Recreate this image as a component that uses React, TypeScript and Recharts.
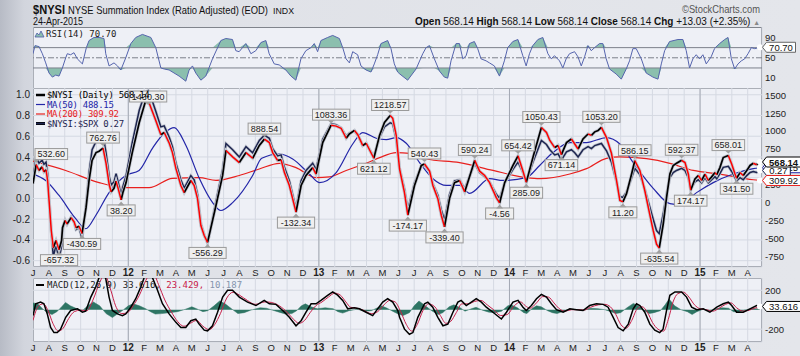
import React from "react";
import { ComposedChart, Line, Area, XAxis, YAxis, CartesianGrid, ReferenceLine } from "recharts";

// t = months since 1-Jul-2011
const MONTHS = "JFMAMJJASOND";
const monthTicks = Array.from({ length: 46 }, (_, i) => i);
const yearTicks = [6, 18, 30, 42];

const nysi: [number, number][] = [
  [0.0, 266], [0.2, 532.6], [0.38, 450], [0.57, 500], [0.69, 430], [0.82, 460], [0.92, 310], [1.15, -390], [1.28, -630],
  [1.45, -530], [1.64, -657.32], [1.8, -530], [1.86, -350], [2.02, -250], [2.14, -300], [2.4, -210], [2.59, -270], [2.71, -350],
  [2.9, -330], [3.09, -430.59], [3.34, -70], [3.53, 310], [3.72, 590], [3.97, 700], [4.16, 720], [4.41, 762.76], [4.6, 550],
  [4.8, 250], [4.92, 150], [5.1, 200], [5.23, 300], [5.36, 200], [5.55, 38.2], [5.67, 150], [5.86, 280], [6.25, 700],
  [6.69, 1120], [7.06, 1400], [7.25, 1430.3], [7.42, 1330], [7.73, 1150], [8.05, 950], [8.26, 980], [8.58, 830], [8.78, 700],
  [9.0, 475], [9.31, 240], [9.52, 140], [9.94, 310], [10.15, 240], [10.36, 56], [10.57, -320], [10.78, -460], [10.99, -556.29],
  [11.52, -40], [11.94, 380], [12.15, 730], [12.57, 640], [12.99, 560], [13.41, 700], [13.83, 620], [14.25, 800], [14.57, 888.54],
  [14.88, 840], [15.09, 700], [15.4, 590], [15.62, 600], [15.83, 420], [16.14, 240], [16.56, -132.34], [16.88, 240], [17.19, 380],
  [17.61, 490], [17.82, 400], [18.24, 840], [18.77, 1083.36], [19.09, 1070], [19.4, 1040], [19.72, 900], [19.92, 960], [20.24, 1010],
  [20.45, 950], [20.76, 800], [20.98, 830], [21.46, 621.12], [21.82, 940], [22.13, 1120], [22.49, 1218.57], [22.65, 1180], [22.87, 940],
  [23.08, 470], [23.39, 140], [23.6, -174.17], [24.02, 240], [24.45, 520], [24.65, 540.43], [24.97, 440], [25.18, 240], [25.49, 56],
  [25.71, -180], [25.91, -339.4], [26.23, 60], [26.54, 280], [26.86, 310], [27.18, 150], [27.38, 290], [27.81, 590.24], [28.12, 440],
  [28.44, 380], [28.75, 280], [29.17, 70], [29.38, -4.56], [29.7, 280], [30.22, 520], [30.54, 654.42], [30.85, 440], [31.06, 285.09],
  [31.5, 650], [32.01, 1050.43], [32.33, 980], [32.54, 870], [32.85, 770], [33.06, 800], [33.27, 671.14], [33.59, 840], [33.9, 890],
  [34.11, 820], [34.32, 750], [34.63, 890], [34.95, 960], [35.16, 940], [35.37, 990], [35.58, 1010], [35.79, 1053.2], [36.11, 910],
  [36.42, 690], [36.74, 310], [36.95, 30], [37.14, 11.2], [37.37, 125], [37.69, 400], [37.89, 586.15], [38.21, 450], [38.52, 170],
  [38.83, -160], [39.05, -390], [39.26, -580], [39.43, -635.54], [39.68, -300], [39.89, 70], [40.1, 400], [40.31, 520], [40.52, 550],
  [40.84, 592.37], [41.05, 560], [41.26, 400], [41.41, 174.17], [41.68, 330], [41.89, 380], [42.1, 310], [42.31, 400], [42.52, 310],
  [42.73, 360], [42.94, 420], [43.05, 390], [43.25, 490], [43.46, 630], [43.78, 658.01], [43.99, 540], [44.2, 400], [44.3, 341.5],
  [44.52, 420], [44.72, 380], [44.94, 450], [45.15, 520], [45.35, 550], [45.56, 530], [45.77, 568.14],
];

const nysiSpx: [number, number][] = [
  [0.0, 0.2], [0.2, 0.4], [0.38, 0.34], [0.57, 0.37], [0.69, 0.33], [0.82, 0.35], [0.92, 0.24], [1.15, -0.33], [1.28, -0.56],
  [1.45, -0.45], [1.64, -0.585], [1.8, -0.46], [1.86, -0.3], [2.02, -0.21], [2.14, -0.25], [2.4, -0.18], [2.59, -0.23], [2.71, -0.3],
  [2.9, -0.28], [3.09, -0.39], [3.34, -0.06], [3.53, 0.25], [3.72, 0.47], [3.97, 0.55], [4.16, 0.57], [4.41, 0.61], [4.6, 0.44],
  [4.8, 0.21], [4.92, 0.13], [5.1, 0.16], [5.23, 0.24], [5.36, 0.16], [5.55, 0.03], [5.67, 0.12], [5.86, 0.22], [6.25, 0.54],
  [6.69, 0.85], [7.06, 1.02], [7.25, 1.04], [7.42, 0.98], [7.73, 0.84], [8.05, 0.69], [8.26, 0.7], [8.58, 0.59], [8.78, 0.5],
  [9.0, 0.34], [9.31, 0.18], [9.52, 0.1], [9.94, 0.22], [10.15, 0.18], [10.36, 0.04], [10.57, -0.24], [10.78, -0.35], [10.99, -0.43],
  [11.52, -0.03], [11.94, 0.28], [12.15, 0.53], [12.57, 0.47], [12.99, 0.4], [13.41, 0.5], [13.83, 0.44], [14.25, 0.56], [14.57, 0.61],
  [14.88, 0.58], [15.09, 0.48], [15.4, 0.41], [15.62, 0.42], [15.83, 0.3], [16.14, 0.17], [16.56, -0.1], [16.88, 0.17], [17.19, 0.27],
  [17.61, 0.34], [17.82, 0.28], [18.24, 0.57], [18.77, 0.72], [19.09, 0.71], [19.4, 0.68], [19.72, 0.6], [19.92, 0.63], [20.24, 0.65],
  [20.45, 0.61], [20.76, 0.51], [20.98, 0.53], [21.46, 0.4], [21.82, 0.59], [22.13, 0.69], [22.49, 0.73], [22.65, 0.72], [22.87, 0.57],
  [23.08, 0.29], [23.39, 0.09], [23.6, -0.11], [24.02, 0.15], [24.45, 0.31], [24.65, 0.32], [24.97, 0.26], [25.18, 0.14], [25.49, 0.03],
  [25.71, -0.11], [25.91, -0.21], [26.23, 0.04], [26.54, 0.17], [26.86, 0.18], [27.18, 0.09], [27.38, 0.17], [27.81, 0.34], [28.12, 0.25],
  [28.44, 0.21], [28.75, 0.16], [29.17, 0.04], [29.38, 0.0], [29.7, 0.15], [30.22, 0.28], [30.54, 0.35], [30.85, 0.25], [31.06, 0.16],
  [31.5, 0.36], [32.01, 0.56], [32.33, 0.52], [32.54, 0.47], [32.85, 0.42], [33.06, 0.43], [33.27, 0.37], [33.59, 0.45], [33.9, 0.47],
  [34.11, 0.44], [34.32, 0.4], [34.63, 0.47], [34.95, 0.5], [35.16, 0.48], [35.37, 0.51], [35.58, 0.52], [35.79, 0.53], [36.11, 0.46],
  [36.42, 0.35], [36.74, 0.16], [36.95, 0.02], [37.14, 0.01], [37.37, 0.06], [37.69, 0.2], [37.89, 0.29], [38.21, 0.23], [38.52, 0.09],
  [38.83, -0.08], [39.05, -0.2], [39.26, -0.31], [39.43, -0.34], [39.68, -0.15], [39.89, 0.04], [40.1, 0.2], [40.31, 0.25], [40.52, 0.27],
  [40.84, 0.29], [41.05, 0.27], [41.26, 0.2], [41.41, 0.09], [41.68, 0.16], [41.89, 0.18], [42.1, 0.15], [42.31, 0.2], [42.52, 0.15],
  [42.73, 0.18], [42.94, 0.21], [43.05, 0.19], [43.25, 0.24], [43.46, 0.3], [43.78, 0.31], [43.99, 0.26], [44.2, 0.2], [44.3, 0.17],
  [44.52, 0.2], [44.72, 0.18], [44.94, 0.22], [45.15, 0.25], [45.35, 0.26], [45.56, 0.25], [45.77, 0.27],
];

const ma50: [number, number][] = [
  [0, 400], [0.8, 310], [1.64, 100], [2.69, -225], [3.32, -365], [3.95, -180], [4.79, 140], [5.84, 380], [6.68, 450], [7.52, 760],
  [8.3, 980], [8.89, 1050], [9.63, 800], [10.47, 340], [11.31, 0], [11.83, -110], [12.57, 0], [13.83, 380], [14.4, 620], [15.51, 680],
  [16.35, 610], [17.4, 400], [18.03, 280], [19.09, 420], [20.13, 820], [20.76, 980], [21.61, 900], [22.24, 880], [22.87, 910],
  [23.5, 830], [24.34, 560], [25.18, 335], [26.02, 240], [26.86, 240], [27.49, 130], [28.75, 335], [29.59, 310], [31.06, 350],
  [31.9, 520], [32.74, 700], [33.8, 840], [34.85, 840], [36.11, 910], [36.95, 820], [37.79, 560], [39.05, 200], [40.1, -15],
  [40.73, -30], [41.78, 140], [42.83, 280], [44.09, 400], [45.35, 475], [45.77, 488.15],
];

const ma200: [number, number][] = [
  [0, 580], [2.06, 450], [4.16, 280], [5.84, 210], [7.31, 210], [8.78, 340], [10.47, 350], [11.52, 310], [12.99, 380], [14.25, 470],
  [15.51, 550], [16.56, 490], [17.82, 350], [18.66, 360], [19.72, 450], [20.98, 550], [21.82, 630], [22.87, 700], [23.71, 690],
  [24.76, 610], [26.86, 560], [28.96, 450], [31.06, 350], [31.9, 335], [33.8, 400], [34.85, 475], [36.11, 620], [36.95, 640],
  [38.63, 615], [40.1, 550], [41.57, 450], [43.25, 400], [45.35, 320], [45.77, 309.92],
];

// labelled turning points of $NYSI: [t, 'h' | 'l']
const peakTimes: [number, string][] = [
  [0.2, "h"], [1.64, "l"], [3.09, "l"], [4.41, "h"], [5.55, "l"], [7.25, "h"], [10.99, "l"], [14.57, "h"], [16.56, "l"],
  [18.77, "h"], [21.46, "l"], [22.49, "h"], [23.6, "l"], [24.65, "h"], [25.91, "l"], [27.81, "h"], [29.38, "l"], [30.54, "h"],
  [31.06, "l"], [32.01, "h"], [33.27, "l"], [35.79, "h"], [37.14, "l"], [37.89, "h"], [39.43, "l"], [40.84, "h"], [41.41, "l"],
  [43.78, "h"], [44.3, "l"],
];

const rsi: [number, number][] = [
  [0, 58], [0.13, 74], [0.38, 72], [0.59, 58], [0.8, 40], [1.01, 20], [1.22, 12], [1.43, 16], [1.64, 14], [1.85, 30], [2.06, 50],
  [2.16, 58], [2.37, 56], [2.58, 60], [2.79, 48], [3.11, 38], [3.36, 70], [3.53, 84], [3.84, 90], [4.16, 90], [4.47, 88], [4.58, 58],
  [4.79, 34], [5.1, 40], [5.32, 34], [5.53, 26], [5.84, 50], [6.16, 78], [6.47, 90], [6.89, 96], [7.42, 90], [7.73, 70], [8.05, 30],
  [8.26, 28], [8.57, 26], [9.2, 14], [9.62, 4], [9.83, 26], [10.04, 34], [10.25, 20], [10.57, 6], [10.88, 14], [11.3, 48], [11.83, 84],
  [12.14, 88], [12.56, 86], [12.77, 64], [12.98, 62], [13.4, 78], [13.72, 58], [14.03, 64], [14.35, 80], [14.66, 84], [14.87, 58],
  [15.19, 38], [15.5, 36], [15.92, 26], [16.24, 14], [16.55, 6], [16.87, 48], [17.18, 64], [17.5, 70], [17.71, 78], [17.92, 62],
  [18.13, 84], [18.55, 90], [18.87, 94], [19.29, 88], [19.5, 70], [19.71, 48], [19.92, 40], [20.13, 62], [20.44, 56], [20.65, 34],
  [20.97, 26], [21.28, 22], [21.49, 38], [21.7, 56], [21.91, 78], [22.33, 84], [22.54, 68], [22.75, 38], [22.96, 22], [23.1, 18],
  [23.59, 6], [24.12, 28], [24.54, 58], [24.75, 70], [24.96, 74], [25.27, 48], [25.59, 24], [25.9, 12], [26.11, 10], [26.32, 44],
  [26.64, 78], [26.85, 78], [27.06, 48], [27.27, 54], [27.48, 78], [27.79, 82], [28.0, 68], [28.21, 48], [28.53, 44], [28.74, 40],
  [29.05, 34], [29.37, 14], [29.68, 44], [29.89, 70], [30.21, 82], [30.53, 86], [30.84, 54], [31.05, 34], [31.26, 58], [31.47, 74],
  [31.79, 86], [32.1, 90], [32.42, 58], [32.63, 48], [32.84, 54], [33.15, 44], [33.36, 30], [33.57, 48], [33.78, 58], [34.1, 62],
  [34.31, 52], [34.52, 34], [34.73, 52], [34.94, 74], [35.15, 64], [35.36, 70], [35.67, 78], [35.88, 78], [36.09, 48], [36.3, 28],
  [36.72, 18], [37.04, 8], [37.35, 28], [37.56, 44], [37.77, 68], [37.98, 68], [38.3, 48], [38.61, 20], [39.03, 12], [39.35, 8],
  [39.56, 38], [39.77, 64], [40.08, 82], [40.61, 86], [40.92, 86], [41.13, 64], [41.34, 30], [41.55, 48], [41.76, 56], [41.97, 48],
  [42.18, 56], [42.39, 38], [42.7, 52], [42.91, 68], [43.23, 78], [43.55, 86], [43.76, 90], [43.97, 48], [44.18, 28], [44.39, 38],
  [44.6, 44], [44.81, 48], [45.02, 58], [45.23, 70], [45.44, 68], [45.77, 70.7],
];

const macd: [number, number][] = [
  [0, -60], [0.17, 61], [0.48, 78], [0.69, 61], [0.9, -43], [1.11, -183], [1.32, -235], [1.53, -235], [1.74, -200], [2.06, -78],
  [2.37, -8], [2.8, 9], [3.11, -26], [3.32, -15], [3.64, 130], [3.95, 235], [4.16, 330], [4.35, 400], [4.58, 320], [4.79, 130],
  [5.0, -8], [5.32, -43], [5.63, -61], [5.84, -43], [6.16, 26], [6.47, 113], [6.79, 235], [7.0, 330], [7.25, 420], [7.52, 330],
  [7.84, 200], [8.15, 61], [8.57, -43], [9.0, -130], [9.31, -183], [9.62, -183], [9.94, -113], [10.25, -96], [10.46, -148],
  [10.78, -210], [10.99, -217], [11.3, -165], [11.62, -26], [11.94, 130], [12.25, 200], [12.56, 200], [12.99, 130], [13.51, 78],
  [14.04, 43], [14.56, 96], [14.88, 61], [15.3, 55], [15.72, -8], [16.14, -78], [16.56, -165], [16.88, -113], [17.19, -26],
  [17.51, 61], [17.82, 61], [18.13, 96], [18.55, 148], [18.87, 183], [19.18, 150], [19.5, 96], [19.82, 9], [20.23, 19], [20.55, 9],
  [20.97, -26], [21.39, -61], [21.7, 9], [22.02, 78], [22.33, 113], [22.65, 78], [22.97, -8], [23.08, -78], [23.39, -200],
  [23.7, -252], [23.92, -235], [24.23, -78], [24.65, 61], [24.86, 78], [25.17, 26], [25.49, -78], [25.81, -165], [26.12, -148],
  [26.44, -26], [26.75, 78], [26.96, 96], [27.28, 43], [27.6, 78], [27.91, 113], [28.23, 78], [28.54, 26], [28.96, -26],
  [29.49, -96], [29.81, -26], [30.22, 78], [30.54, 96], [30.85, 26], [31.06, -8], [31.38, 43], [31.7, 113], [32.01, 157],
  [32.33, 130], [32.64, 61], [32.96, 0], [33.38, -26], [33.8, 9], [34.22, 0], [34.63, -8], [35.05, 43], [35.48, 61], [35.9, 55],
  [36.21, 26], [36.53, -78], [36.84, -183], [37.16, -217], [37.48, -148], [37.79, 9], [38.0, 61], [38.21, 43], [38.52, -26],
  [38.84, -148], [39.15, -210], [39.46, -235], [39.67, -200], [39.89, -8], [40.1, 148], [40.42, 183], [40.84, 183], [41.15, 130],
  [41.47, 26], [41.79, 0], [42.2, 9], [42.62, -26], [43.05, 26], [43.46, 61], [43.78, 78], [43.99, 43], [44.3, -26], [44.72, -26],
  [45.14, 9], [45.56, 43], [45.77, 33.616],
];

const signal: [number, number][] = [
  [0, -110], [0.35, 40], [0.65, 60], [0.95, -10], [1.25, -140], [1.6, -220], [1.9, -190], [2.25, -90], [2.6, -20], [3.0, -5],
  [3.4, -10], [3.8, 110], [4.2, 280], [4.5, 360], [4.9, 200], [5.2, 40], [5.6, -40], [5.95, -30], [6.3, 40], [6.7, 150], [7.1, 300],
  [7.5, 400], [7.9, 260], [8.3, 100], [8.7, -20], [9.1, -120], [9.5, -170], [9.9, -140], [10.3, -110], [10.7, -170], [11.1, -205],
  [11.45, -150], [11.8, -40], [12.2, 120], [12.6, 180], [13.0, 150], [13.5, 95], [14.0, 55], [14.6, 80], [15.0, 75], [15.4, 50],
  [15.9, -10], [16.3, -80], [16.75, -140], [17.1, -110], [17.45, -30], [17.8, 40], [18.2, 80], [18.6, 130], [19.0, 170],
  [19.35, 150], [19.7, 80], [20.0, 25], [20.4, 15], [20.8, -5], [21.3, -40], [21.7, -20], [22.1, 50], [22.45, 95], [22.8, 80],
  [23.15, -20], [23.5, -150], [23.85, -220], [24.2, -150], [24.55, -10], [24.9, 60], [25.3, 30], [25.65, -60], [26.0, -140],
  [26.3, -120], [26.65, -30], [27.0, 60], [27.4, 60], [27.8, 85], [28.2, 95], [28.6, 50], [29.0, 0], [29.45, -60], [29.85, -50],
  [30.3, 40], [30.7, 80], [31.0, 40], [31.3, 15], [31.7, 70], [32.1, 135], [32.45, 130], [32.8, 70], [33.1, 15], [33.5, -15],
  [33.9, 0], [34.3, 0], [34.7, -3], [35.1, 25], [35.6, 50], [36.0, 55], [36.35, 30], [36.7, -50], [37.0, -150], [37.35, -190],
  [37.7, -110], [38.05, 10], [38.35, 30], [38.7, -30], [39.0, -130], [39.35, -200], [39.7, -220], [40.0, -100], [40.3, 80],
  [40.6, 165], [40.95, 180], [41.3, 130], [41.65, 50], [42.0, 10], [42.4, 0], [42.8, -15], [43.2, 15], [43.6, 55], [43.95, 70],
  [44.3, 20], [44.7, -15], [45.1, -5], [45.5, 20], [45.77, 23.429],
];

const hist: [number, number][] = [
  [0, 70], [0.3, 60], [0.6, 10], [0.9, -30], [1.2, -50], [1.5, -20], [1.75, 20], [2.05, 75], [2.35, 40], [2.7, 15], [3.1, -10],
  [3.45, 40], [3.8, 80], [4.2, 40], [4.6, -40], [5.0, -80], [5.35, -40], [5.7, 0], [6.0, 40], [6.3, 60], [6.7, 40], [7.1, 10],
  [7.4, -20], [7.7, -45], [8.1, -40], [8.6, -30], [9.1, -20], [9.6, 5], [10.0, 30], [10.3, 10], [10.7, -20], [11.0, -10], [11.4, 40],
  [11.75, 90], [12.1, 60], [12.5, 10], [12.9, -40], [13.3, -30], [13.7, -5], [14.3, 20], [14.7, 15], [15.2, -10], [15.6, -30],
  [15.9, -45], [16.3, -40], [16.6, -10], [16.9, 40], [17.15, 60], [17.5, 30], [17.9, 10], [18.4, 20], [18.9, 10], [19.2, -20],
  [19.5, -35], [19.9, -10], [20.4, 5], [20.9, -15], [21.3, -10], [21.7, 20], [21.95, 40], [22.3, 15], [22.7, -20], [23.0, -45],
  [23.3, -60], [23.7, -30], [24.0, 40], [24.3, 90], [24.7, 40], [25.1, -10], [25.5, -50], [25.8, -30], [26.2, 30], [26.5, 50],
  [26.9, 20], [27.2, -15], [27.6, 10], [27.9, 25], [28.3, -5], [28.7, -25], [29.1, -30], [29.5, -15], [29.9, 40], [30.1, 50],
  [30.5, 20], [30.9, -30], [31.1, -40], [31.4, 10], [31.7, 40], [32.0, 30], [32.4, -10], [32.7, -30], [33.0, -40], [33.4, -15],
  [33.8, 5], [34.3, 0], [34.7, -5], [35.1, 15], [35.6, 10], [36.0, 0], [36.4, -20], [36.7, -40], [37.0, -30], [37.4, 20], [37.8, 65],
  [38.1, 40], [38.5, -10], [38.8, -40], [39.1, -30], [39.5, -10], [39.8, 50], [40.05, 110], [40.4, 40], [40.8, 0], [41.2, -20],
  [41.5, -50], [41.8, -20], [42.2, 5], [42.6, -10], [43.0, 10], [43.4, 20], [43.8, 15], [44.1, -20], [44.4, -25], [44.8, -5],
  [45.2, 10], [45.77, 10.187],
];

const FONT = "'Liberation Sans', Arial, sans-serif";
const MONO = "'DejaVu Sans Mono', monospace";

const rows = (p: [number, number][]) => p.map(([t, v]) => ({ t, v }));

// split $NYSI into rising (black) and falling (red) runs
function upDown(p: [number, number][]) {
  const out: any[] = p.map(([t, v]) => ({ t, v }));
  let dir = 0, up = 0, dn = 0;
  for (let i = 0; i < p.length - 1; i++) {
    const d = p[i + 1][1] >= p[i][1] ? 1 : -1;
    if (d !== dir) { dir = d; if (d > 0) up++; else dn++; }
    const k = d > 0 ? (up % 2 ? "upA" : "upB") : (dn % 2 ? "dnA" : "dnB");
    out[i][k] = p[i][1];
    out[i + 1][k] = p[i + 1][1];
  }
  return out;
}

const nysiRows = upDown(nysi);
const ratioRows = rows(nysiSpx);
const peakRows = peakTimes.map(([t, s]) => ({ t, v: (nysi.find((d) => d[0] === t) || [t, 0])[1], s }));
const last = (a: any[]) => [a[a.length - 1]];

const MonthTick = ({ x, y, payload }: any) => {
  const m = (payload.value + 6) % 12;
  const yr = Math.floor((payload.value + 6) / 12) + 11;
  const isYear = m === 0;
  return (
    <text x={x} y={y + 9} textAnchor="middle" fontSize={isYear ? 10 : 9.5} fontWeight={isYear ? "bold" : "normal"} fill="#222" fontFamily={FONT}>
      {isYear ? String(yr) : MONTHS[m]}
    </text>
  );
};

const tagLabel = (color: string, txt: string, bold = false) => (p: any) => {
  if (p.index !== 0 || p.x == null) return null;
  const x = 762.5, y = p.y;
  const w = txt.length * 5.2 + 7;
  return (
    <g>
      <path d={`M${x},${y} L${x + 4},${y - 5} L${x + w},${y - 5} L${x + w},${y + 5} L${x + 4},${y + 5} Z`} fill="#fff" stroke={color} strokeWidth={1} />
      <text x={x + 4 + (w - 4) / 2} y={y + 3.5} textAnchor="middle" fontSize={9.5} fontWeight={bold ? "bold" : "normal"} fill="#111" fontFamily={FONT}>
        {txt}
      </text>
    </g>
  );
};

const PeakLabel = (p: any) => {
  const pk = peakRows[p.index];
  if (!pk || p.x == null) return null;
  const txt = pk.v.toFixed(2);
  const w = txt.length * 4.6 + 5;
  const lo = pk.s === "l";
  const bx = Math.max(p.x - w / 2, 35);
  const by = lo ? p.y + 5 : Math.max(p.y - 16, 3);
  const tri = lo
    ? `M${p.x - 3.5},${p.y + 5.5} L${p.x + 3.5},${p.y + 5.5} L${p.x},${p.y + 1.5} Z`
    : `M${p.x - 3.5},${by + 11} L${p.x + 3.5},${by + 11} L${p.x},${by + 14} Z`;
  return (
    <g>
      <rect x={bx} y={by} width={w} height={11} fill="#efefef" stroke="#9a9a9a" strokeWidth={1} />
      <path d={tri} fill="#a0a0a0" />
      <text x={bx + w / 2} y={by + 8.8} textAnchor="middle" fontSize={9} fill="#222" fontFamily={FONT}>{txt}</text>
    </g>
  );
};

const panel = (top: number, height: number): React.CSSProperties => ({
  position: "absolute", left: 33, top, width: 729, height, background: "#eef0f6",
  border: "1px solid #80848c", boxSizing: "border-box",
});

const xDomain: [number, number] = [0, 45.9];
const na = { isAnimationActive: false, dot: false, activeDot: false } as any;

export default function App() {
  return (
    <div style={{ position: "absolute", left: 0, top: 0, width: 800, height: 356, overflow: "hidden",
      background: "linear-gradient(90deg, #b7bbc5 0px, #d2d5dd 24px, #dfe1e7 70px, #e4e6eb 100%)", fontFamily: FONT }}>
      <div style={panel(27, 62)} />
      <div style={panel(88, 179)} />
      <div style={panel(278, 64)} />

      {/* RSI */}
      <div style={{ position: "absolute", left: 0, top: 27 }}>
        <ComposedChart width={800} height={62} margin={{ top: 0, right: 0, bottom: 0, left: 33 }}>
          <CartesianGrid stroke="#d5d9e2" horizontal={false} />
          <CartesianGrid stroke="#a4a9b3" horizontal={false} verticalValues={yearTicks} />
          <XAxis type="number" dataKey="t" domain={xDomain} ticks={monthTicks} allowDataOverflow height={0} tick={false} axisLine={false} tickLine={false} />
          <YAxis orientation="right" width={38} domain={[-11.4, 110.6]} ticks={[10, 30, 50, 70, 90]} allowDataOverflow axisLine={false} tickLine={false}
            tickSize={0} tickMargin={3} tick={{ fontSize: 9.5, fill: "#222", fontFamily: FONT }} />
          <Area data={rows(rsi)} dataKey={(d: any) => [70, Math.max(d.v, 70)]} stroke="none" fill="#8bbfae" fillOpacity={1} isAnimationActive={false} activeDot={false} />
          <Area data={rows(rsi)} dataKey={(d: any) => [Math.min(d.v, 30), 30]} stroke="none" fill="#8bbfae" fillOpacity={1} isAnimationActive={false} activeDot={false} />
          <ReferenceLine y={70} stroke="#7c818b" />
          <ReferenceLine y={30} stroke="#7c818b" />
          <ReferenceLine y={50} stroke="#7c818b" strokeDasharray="6 2 2 2" />
          <Line data={rows(rsi)} dataKey="v" stroke="#5564ad" strokeWidth={1} {...na} />
          <Line data={last(rows(rsi))} dataKey="v" stroke="none" {...na} label={tagLabel("#666", "70.70")} />
        </ComposedChart>
      </div>

      {/* Main */}
      <div style={{ position: "absolute", left: 0, top: 88 }}>
        <ComposedChart width={800} height={193} margin={{ top: 0, right: 0, bottom: 0, left: 0 }}>
          <CartesianGrid stroke="#d5d9e2" yAxisId="l" />
          <CartesianGrid stroke="#a4a9b3" yAxisId="l" horizontal={false} verticalValues={yearTicks} />
          <XAxis type="number" dataKey="t" domain={xDomain} ticks={monthTicks} allowDataOverflow height={14} axisLine={false} tickLine={false}
            tickSize={0} tickMargin={0} tick={<MonthTick />} interval={0} />
          <YAxis yAxisId="l" orientation="left" width={33} domain={[-0.661, 1.065]} ticks={[-0.6, -0.4, -0.2, 0, 0.2, 0.4, 0.6, 0.8, 1.0]}
            allowDataOverflow axisLine={false} tickLine={false} tickSize={0} tickMargin={3} tickFormatter={(v: number) => v.toFixed(1)}
            tick={{ fontSize: 10, fill: "#222", fontFamily: FONT }} interval={0} />
          <YAxis yAxisId="r" orientation="right" width={38} domain={[-900, 1603]} ticks={[-750, -500, -250, 0, 250, 500, 750, 1000, 1250, 1500]}
            allowDataOverflow axisLine={false} tickLine={false} tickSize={0} tickMargin={3}
            tick={{ fontSize: 9.5, fill: "#222", fontFamily: FONT }} interval={0} />
          <Line yAxisId="r" data={rows(ma200)} dataKey="v" type="monotone" stroke="#e8201e" strokeWidth={1.2} {...na} />
          <Line yAxisId="r" data={rows(ma50)} dataKey="v" type="monotone" stroke="#2326a8" strokeWidth={1.2} {...na} />
          <Line yAxisId="l" data={ratioRows} dataKey="v" stroke="#c3c7d1" strokeWidth={3} {...na} />
          <Line yAxisId="l" data={ratioRows} dataKey="v" stroke="#1d2550" strokeWidth={1.5} {...na} />
          <Line yAxisId="r" data={nysiRows} dataKey="v" stroke="#c3c7d1" strokeWidth={3.2} {...na} />
          <Line yAxisId="r" data={nysiRows} dataKey="upA" stroke="#000" strokeWidth={1.7} {...na} />
          <Line yAxisId="r" data={nysiRows} dataKey="upB" stroke="#000" strokeWidth={1.7} {...na} />
          <Line yAxisId="r" data={nysiRows} dataKey="dnA" stroke="#f00" strokeWidth={1.5} {...na} />
          <Line yAxisId="r" data={nysiRows} dataKey="dnB" stroke="#f00" strokeWidth={1.5} {...na} />
          <Line yAxisId="r" data={peakRows} dataKey="v" stroke="none" {...na} label={PeakLabel} />
          <Line yAxisId="r" data={last(rows(ma50))} dataKey="v" stroke="none" {...na} label={tagLabel("#2326a8", "488.15")} />
          <Line yAxisId="l" data={last(ratioRows)} dataKey="v" stroke="none" {...na} label={tagLabel("#1d2550", "0.27")} />
          <Line yAxisId="r" data={last(nysiRows)} dataKey="v" stroke="none" {...na} label={tagLabel("#000", "568.14", true)} />
          <Line yAxisId="r" data={last(rows(ma200))} dataKey="v" stroke="none" {...na} label={tagLabel("#e8201e", "309.92")} />
        </ComposedChart>
      </div>

      {/* MACD */}
      <div style={{ position: "absolute", left: 0, top: 278 }}>
        <ComposedChart width={800} height={78} margin={{ top: 0, right: 0, bottom: 0, left: 33 }}>
          <CartesianGrid stroke="#d5d9e2" />
          <CartesianGrid stroke="#a4a9b3" horizontal={false} verticalValues={yearTicks} />
          <XAxis type="number" dataKey="t" domain={xDomain} ticks={monthTicks} allowDataOverflow height={14} axisLine={false} tickLine={false}
            tickSize={0} tickMargin={0} tick={<MonthTick />} interval={0} />
          <YAxis orientation="right" width={38} domain={[-332, 326]} ticks={[-200, 200]} allowDataOverflow axisLine={false} tickLine={false}
            tickSize={0} tickMargin={3} tick={{ fontSize: 9.5, fill: "#222", fontFamily: FONT }} />
          <Area data={rows(hist)} dataKey="v" stroke="#2e7564" strokeWidth={0.5} fill="#2e7564" fillOpacity={1} isAnimationActive={false} activeDot={false} />
          <Line data={rows(signal)} dataKey="v" type="monotone" stroke="#c8204a" strokeWidth={1} {...na} />
          <Line data={rows(macd)} dataKey="v" stroke="#000" strokeWidth={1.5} {...na} />
          <Line data={last(rows(macd))} dataKey="v" stroke="none" {...na} label={tagLabel("#000", "33.616")} />
        </ComposedChart>
      </div>

      {/* texts */}
      <svg width={800} height={356} style={{ position: "absolute", left: 0, top: 0, pointerEvents: "none" }}>
        <text x={33} y={14} fontSize={12.5} fontWeight="bold" fill="#111" fontFamily={FONT} textLength={32} lengthAdjust="spacingAndGlyphs">$NYSI</text>
        <text x={68} y={14} fontSize={10.2} fill="#111" fontFamily={FONT} textLength={200} lengthAdjust="spacingAndGlyphs">NYSE Summation Index (Ratio Adjusted) (EOD)</text>
        <text x={273} y={14} fontSize={9} fill="#111" fontFamily={FONT} textLength={21} lengthAdjust="spacingAndGlyphs">INDX</text>
        <text x={33} y={25} fontSize={10} fill="#111" fontFamily={FONT} textLength={50} lengthAdjust="spacingAndGlyphs">24-Apr-2015</text>
        <text x={682} y={13} fontSize={10.5} fill="#555" fontFamily={FONT} textLength={78} lengthAdjust="spacingAndGlyphs">©StockCharts.com</text>
        <text x={415} y={24.5} fontSize={10.2} fill="#111" fontFamily={FONT} textLength={345} lengthAdjust="spacingAndGlyphs">
          <tspan fontWeight="bold">Open</tspan> 568.14 <tspan fontWeight="bold">High</tspan> 568.14 <tspan fontWeight="bold">Low</tspan> 568.14{" "}
          <tspan fontWeight="bold">Close</tspan> 568.14 <tspan fontWeight="bold">Chg</tspan> +13.03 (+2.35%) <tspan fill="#888" fontSize={7}>▲</tspan>
        </text>

        <path d="M35,37 L37,33 L39,35 L41,31 L44,37 Z" fill="#8bbfae" stroke="#4f5ca8" strokeWidth={0.8} />
        <text x={46} y={36.6} fontSize={9} fill="#222" fontFamily={MONO}>RSI(14) 70.70</text>

        <line x1={36} y1={95} x2={45} y2={95} stroke="#000" strokeWidth={2.5} />
        <text x={47} y={98.3} fontSize={9} fill="#000" fontFamily={MONO} letterSpacing={-0.3}>$NYSI (Daily) 568.14</text>
        <line x1={36} y1={104.5} x2={45} y2={104.5} stroke="#2326a8" strokeWidth={1.2} />
        <text x={47} y={107.8} fontSize={9} fill="#2326a8" fontFamily={MONO} letterSpacing={-0.3}>MA(50) 488.15</text>
        <line x1={36} y1={114} x2={45} y2={114} stroke="#e8201e" strokeWidth={1.2} />
        <text x={47} y={117.3} fontSize={9} fill="#e8201e" fontFamily={MONO} letterSpacing={-0.3}>MA(200) 309.92</text>
        <line x1={36} y1={123.5} x2={45} y2={123.5} stroke="#000" strokeWidth={3} />
        <line x1={36} y1={123.5} x2={45} y2={123.5} stroke="#1d2550" strokeWidth={1.5} />
        <text x={47} y={126.8} fontSize={9} fill="#1d2550" fontFamily={MONO} letterSpacing={-0.3}>$NYSI:$SPX 0.27</text>

        <line x1={36} y1={285} x2={44} y2={285} stroke="#000" strokeWidth={2} />
        <text x={47} y={288.3} fontSize={9} fill="#222" fontFamily={MONO}>
          MACD(12,26,9) 33.616,<tspan fill="#c8204a"> 23.429,</tspan><tspan fill="#8595ad"> 10.187</tspan>
        </text>
      </svg>
    </div>
  );
}
